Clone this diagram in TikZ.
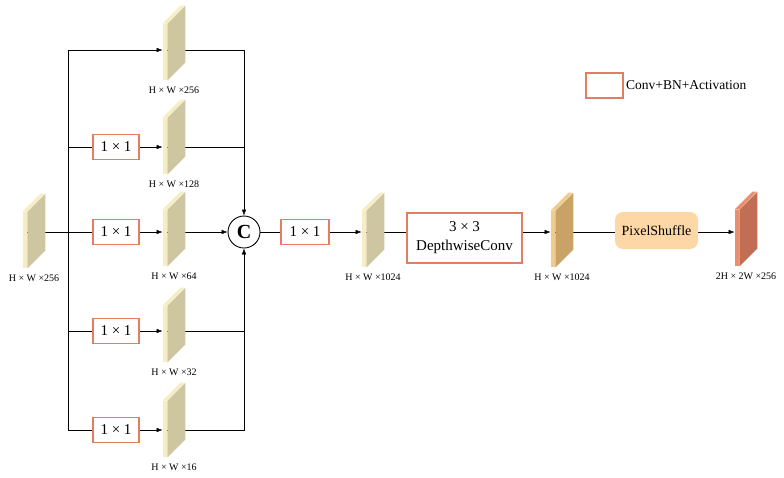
\documentclass[tikz,border=0pt]{standalone}
\usepackage{fontspec}
\setmainfont{Liberation Serif}
\usetikzlibrary{arrows.meta, positioning, calc, backgrounds}

\definecolor{convline}{HTML}{E07D62}
\definecolor{mapfront}{HTML}{F7EDC2}
\definecolor{mapside}{HTML}{CEC6A0}
\definecolor{dwfront}{HTML}{F0CB8C}
\definecolor{dwside}{HTML}{C9A266}
\definecolor{upfront}{HTML}{E98E6E}
\definecolor{upside}{HTML}{C26E55}
\definecolor{psfill}{HTML}{FDD8A6}

\tikzset{
  conv/.style={draw=convline, line width=1.5pt, inner sep=0pt, minimum width=46pt, minimum height=25pt, font=\fontsize{15}{19}\selectfont},
  fmap/.style 2 args={fill=#1, minimum width=4pt, minimum height=56pt, inner sep=0pt,
    append after command={\pgfextra{
      \fill[#2] (\tikzlastnode.north east) -- ++(18pt,18pt) -- ($(\tikzlastnode.south east)+(18pt,18pt)$) -- (\tikzlastnode.south east) -- cycle;
      \fill[#1] (\tikzlastnode.north west) -- ++(18pt,18pt) -- ++(4pt,0pt) -- (\tikzlastnode.north east) -- cycle;
    }}},
  featmap/.style={fmap={mapfront}{mapside}},
  lbl/.style={font=\fontsize{10}{12}\selectfont, xshift=9pt, label distance=2.5pt},
}

\begin{document}
\begin{tikzpicture}[x=1pt, y=-1pt, line width=0.9pt, >={Latex[length=6pt,width=4.5pt]}]
    \useasboundingbox (0,0) rectangle (784,477);

    % input and branches
    \node[featmap, label={[lbl]below:H × W ×256}] (in) at (25,240) {};
    \coordinate (split) at (68,232);
    \coordinate (r1) at (68,50);
    \node[featmap, label={[lbl]below:H × W ×256}] (m1) at (165,52) {};
    \node[conv] (b2) at (116,147) {1 × 1};
    \node[featmap, label={[lbl]below:H × W ×128}] (m2) at (165,146) {};
    \node[conv] (b3) at (116,232) {1 × 1};
    \node[featmap, label={[lbl]below:H × W ×64}] (m3) at (165,238) {};
    \node[conv] (b4) at (116,331) {1 × 1};
    \node[featmap, label={[lbl]below:H × W ×32}] (m4) at (165,334) {};
    \node[conv] (b5) at (116,430) {1 × 1};
    \node[featmap, label={[lbl]below:H × W ×16}] (m5) at (165,429) {};

    % concat and head
    \node[draw, circle, minimum size=32pt, inner sep=0pt, font=\fontsize{20}{22}\selectfont\bfseries] (cat) at (244,232) {C};
    \node[conv, minimum width=48pt] (c11) at (305,232) {1 × 1};
    \node[featmap, label={[lbl]below:H × W ×1024}] (m6) at (364,239) {};
    \node[conv, minimum width=115pt, minimum height=50pt, align=center] (dw) at (464.5,238) {3 × 3\\DepthwiseConv};
    \node[fmap={dwfront}{dwside}, label={[lbl]below:H × W ×1024}] (m7) at (553,239) {};
    \node[fill=psfill, rounded corners=8pt, minimum width=83pt, minimum height=37pt, font=\fontsize{14}{16}\selectfont] (ps) at (656.5,230.5) {PixelShuffle};
    \node[fmap={upfront}{upside}, label={[lbl]below:2H × 2W ×256}] (m8) at (737,238) {};

    % legend
    \node[conv, minimum width=37pt] (leg) at (604.5,85.5) {};
    \node[right=2pt of leg, inner sep=0pt, font=\fontsize{13.5}{16}\selectfont] (legtxt) {Conv+BN+Activation};

    \begin{scope}[on background layer]
    \draw (in.east |- split) -- (split);
    \draw (r1) -- (split |- b5);
    \draw[->] (r1) -- (r1 -| m1.west);
    \draw (split |- b2) -- (b2);
    \draw (split |- b3) -- (b3);
    \draw (split |- b4) -- (b4);
    \draw (split |- b5) -- (b5);
    \draw[->] (b2) -- (b2 -| m2.west);
    \draw[->] (b3) -- (b3 -| m3.west);
    \draw[->] (b4) -- (b4 -| m4.west);
    \draw[->] (b5) -- (b5 -| m5.west);
    \draw[->] (m1.east |- r1) -| (cat);
    \draw (m2.east |- b2) -- (b2 -| cat);
    \draw[->] (m3.east |- b3) -- (cat);
    \draw (m4.east |- b4) -- (b4 -| cat);
    \draw[->] (m5.east |- b5) -| (cat);
    \draw (cat) -- (c11);
    \draw[->] (c11) -- (c11 -| m6.west);
    \draw (m6.east |- c11) -- (c11 -| dw.west);
    \draw[->] (dw.east |- c11) -- (c11 -| m7.west);
    \draw (m7.east |- c11) -- (c11 -| ps.west);
    \draw[->] (ps.east |- c11) -- (c11 -| m8.west);
    \end{scope}
\end{tikzpicture}
\end{document}
